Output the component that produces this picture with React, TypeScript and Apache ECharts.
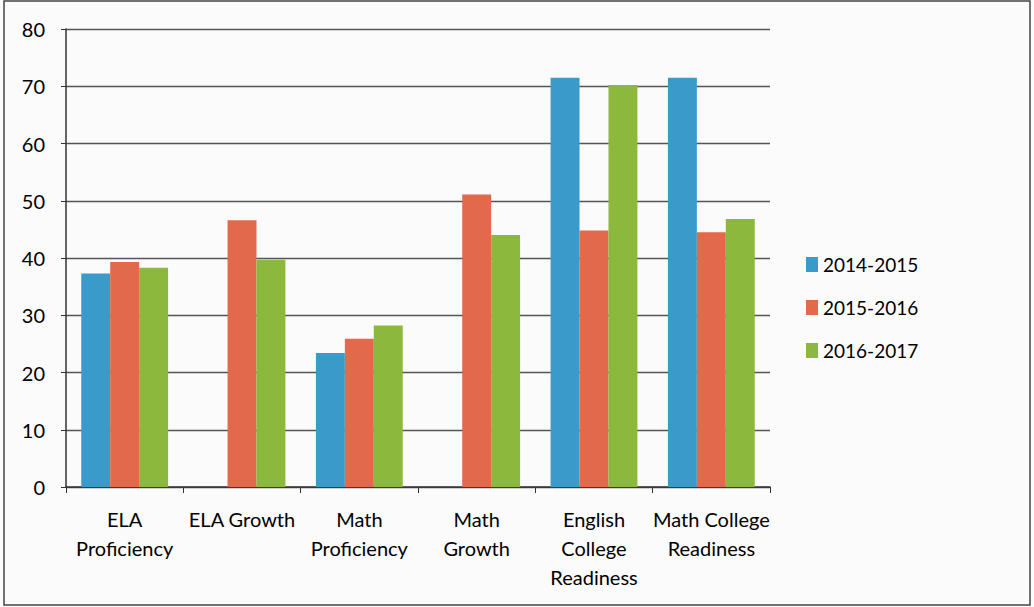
import React, { useEffect, useRef } from "react";
import * as echarts from "echarts";

const categories = [
  "ELA\nProficiency",
  "ELA Growth",
  "Math\nProficiency",
  "Math\nGrowth",
  "English\nCollege\nReadiness",
  "Math College\nReadiness",
];
const seriesNames = ["2014-2015", "2015-2016", "2016-2017"];
const values2014 = [37.3, null, 23.4, null, 71.5, 71.5];
const values2015 = [39.3, 46.6, 25.9, 51.1, 44.8, 44.5];
const values2016 = [38.3, 39.7, 28.2, 44.0, 70.2, 46.8];
const colors = ["#3a9bcb", "#e2694c", "#8db83e"];

export default function App() {
  const ref = useRef<HTMLDivElement>(null);
  useEffect(() => {
    if (!ref.current) return;
    const chart = echarts.init(ref.current, null, { renderer: "svg" });
    const font = "Lato, 'Open Sans', sans-serif";
    chart.setOption({
      animation: false,
      backgroundColor: "#fbfbfb",
      textStyle: { fontFamily: font },
      grid: { left: 66, right: 264, top: 29, bottom: 120 },
      legend: {
        orient: "vertical",
        left: 801,
        top: 250,
        itemGap: 24,
        itemWidth: 12,
        itemHeight: 15,
        icon: "rect",
        data: seriesNames,
        textStyle: { fontSize: 19, color: "#000", fontFamily: font },
      },
      xAxis: {
        type: "category",
        data: categories,
        axisLine: { lineStyle: { color: "#333", width: 1.5 } },
        axisTick: { show: true, length: 6, lineStyle: { color: "#333" } },
        axisLabel: {
          fontSize: 20,
          color: "#000",
          lineHeight: 29,
          margin: 17,
          interval: 0,
          fontFamily: font,
        },
      },
      yAxis: {
        type: "value",
        min: 0,
        max: 80,
        interval: 10,
        axisLine: { show: true, lineStyle: { color: "#333", width: 1.5 } },
        axisTick: { show: true, length: 5, lineStyle: { color: "#333" } },
        axisLabel: { fontSize: 20, color: "#000", margin: 21, fontFamily: font },
        splitLine: { lineStyle: { color: "#555", width: 1.3 } },
      },
      series: [values2014, values2015, values2016].map((d, i) => ({
        name: seriesNames[i],
        type: "bar",
        data: d,
        barGap: "0%",
        barCategoryGap: "26%",
        itemStyle: { color: colors[i] },
      })),
      graphic: [
        {
          type: "rect",
          shape: { x: 4, y: 1, width: 1026, height: 604 },
          style: { fill: "none", stroke: "#444", lineWidth: 1.5 },
          silent: true,
        },
      ],
    });
    return () => chart.dispose();
  }, []);
  return (
    <div
      ref={ref}
      style={{ position: "fixed", left: 0, top: 0, width: 1034, height: 607 }}
    />
  );
}
